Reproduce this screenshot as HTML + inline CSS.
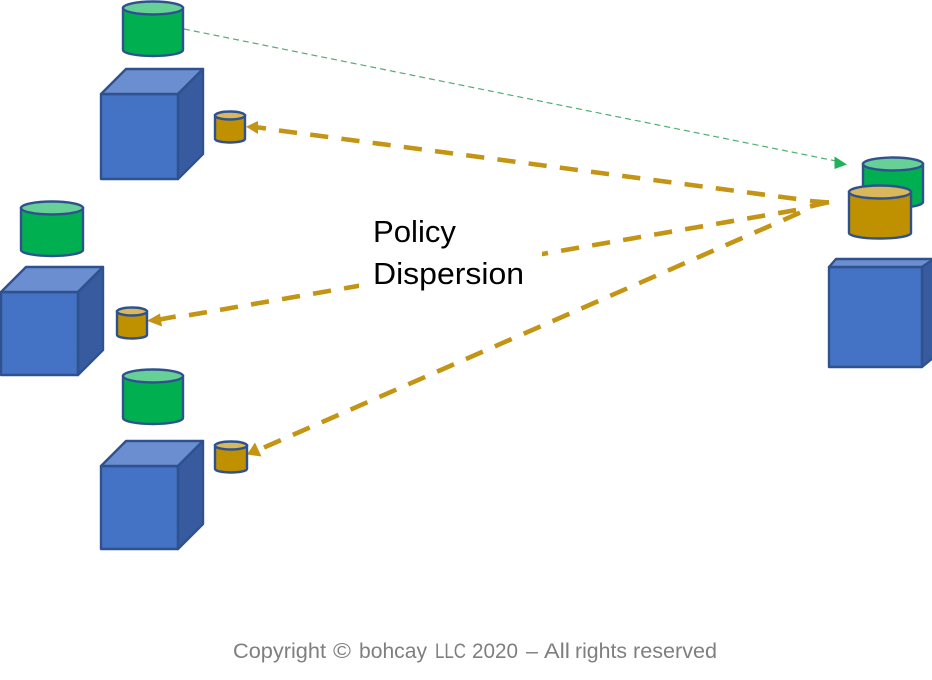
<!DOCTYPE html>
<html>
<head>
<meta charset="utf-8">
<style>
html,body{margin:0;padding:0;background:#fff;width:932px;height:680px;overflow:hidden}
svg{display:block}
</style>
</head>
<body>
<svg width="932" height="680" viewBox="0 0 932 680" xmlns="http://www.w3.org/2000/svg">
<rect width="932" height="680" fill="#fff"/>

<!-- green thin dashed -->
<line x1="184" y1="29" x2="836" y2="161" stroke="#4fae70" stroke-width="1.200" stroke-dasharray="6 4"/>
<polygon points="847,164.500 834.500,169 834.500,156.500" fill="#1fb25a"/>

<!-- gold dashed connectors -->
<g stroke="#c49414" stroke-width="4.600" fill="none">
<g stroke-dasharray="18.200 13.270">
<line x1="279" y1="130.500" x2="797" y2="199"/>
<line x1="189" y1="315.200" x2="796.500" y2="210"/>
</g>
<line x1="264" y1="447.500" x2="800" y2="212.700" stroke-dasharray="18.400 13.100"/>
<!-- stubs by the arrowheads -->
<line x1="255" y1="127" x2="266" y2="128.500"/>
<line x1="157" y1="320" x2="175.700" y2="316.500"/>
<!-- merged end at the source -->
<line x1="810" y1="201" x2="829" y2="202.500"/>
<line x1="810" y1="206.500" x2="829" y2="202"/>
</g>
<polygon points="246,126.700 258,121 258,134" fill="#c49414"/>
<polygon points="147,320.700 160,313.500 162,326.500" fill="#c49414"/>
<polygon points="247,454.500 255,442.500 261.500,456.500" fill="#c49414"/>

<!-- label mask and text -->
<rect x="359" y="210" width="183" height="86" fill="#fff"/>
<text x="373" y="242" font-family="'Liberation Sans',sans-serif" font-size="31" fill="#000" textLength="83" lengthAdjust="spacingAndGlyphs">Policy</text>
<text x="373" y="284" font-family="'Liberation Sans',sans-serif" font-size="31" fill="#000" textLength="151" lengthAdjust="spacingAndGlyphs">Dispersion</text>

<!-- cube 1 -->
<g stroke="#2f528f" stroke-width="2.400" stroke-linejoin="round">
<rect x="101" y="94" width="77" height="85" fill="#4472c4"/>
<polygon points="101,94 126,69 203,69 178,94" fill="#6a8ed0"/>
<polygon points="178,94 203,69 203,154 178,179" fill="#375b9e"/>
</g>
<!-- cube 2 -->
<g stroke="#2f528f" stroke-width="2.400" stroke-linejoin="round">
<rect x="1" y="292" width="77" height="83" fill="#4472c4"/>
<polygon points="1,292 26,267 103,267 78,292" fill="#6a8ed0"/>
<polygon points="78,292 103,267 103,350 78,375" fill="#375b9e"/>
</g>
<!-- cube 3 -->
<g stroke="#2f528f" stroke-width="2.400" stroke-linejoin="round">
<rect x="101" y="466" width="77" height="83" fill="#4472c4"/>
<polygon points="101,466 126,441 203,441 178,466" fill="#6a8ed0"/>
<polygon points="178,466 203,441 203,524 178,549" fill="#375b9e"/>
</g>
<!-- cube right -->
<g stroke="#2f528f" stroke-width="2.400" stroke-linejoin="round">
<rect x="829" y="267" width="93" height="100" fill="#4472c4"/>
<polygon points="829,267 836,259 934,259 922,267" fill="#6a8ed0"/>
<polygon points="922,267 934,259 934,357 922,367" fill="#375b9e"/>
</g>

<!-- green cylinders -->
<g stroke="#2f528f" stroke-width="2.400">
<path d="M123,8 V50 A30,6 0 0 0 183,50 V8 Z" fill="#00b050"/>
<ellipse cx="153" cy="8" rx="30" ry="6.500" fill="#66d096"/>
<path d="M21,208 V250 A31,6 0 0 0 83,250 V208 Z" fill="#00b050"/>
<ellipse cx="52" cy="208" rx="31" ry="6.500" fill="#66d096"/>
<path d="M123,376 V418 A30,6 0 0 0 183,418 V376 Z" fill="#00b050"/>
<ellipse cx="153" cy="376" rx="30" ry="6.500" fill="#66d096"/>
<path d="M863,164 V202 A30,6 0 0 0 923,202 V164 Z" fill="#00b050"/>
<ellipse cx="893" cy="164" rx="30" ry="6.500" fill="#66d096"/>
</g>

<!-- gold cylinders -->
<g stroke="#2f528f" stroke-width="2.400">
<path d="M849,192 V233 A31,5.500 0 0 0 911,233 V192 Z" fill="#bf9000"/>
<ellipse cx="880" cy="192" rx="31" ry="6.500" fill="#d9b75c"/>
<path d="M215,115.500 V139 A15,3.500 0 0 0 245,139 V115.500 Z" fill="#bf9000"/>
<ellipse cx="230" cy="115.500" rx="15" ry="4" fill="#d9b75c"/>
<path d="M117,311.500 V335 A15,3.500 0 0 0 147,335 V311.500 Z" fill="#bf9000"/>
<ellipse cx="132" cy="311.500" rx="15" ry="4" fill="#d9b75c"/>
<path d="M215,445.500 V469 A16,3.500 0 0 0 247,469 V445.500 Z" fill="#bf9000"/>
<ellipse cx="231" cy="445.500" rx="16" ry="4" fill="#d9b75c"/>
</g>

<g font-family="'Liberation Sans',sans-serif" font-size="21" fill="#7f7f7f">
<text x="233" y="658" textLength="93" lengthAdjust="spacingAndGlyphs">Copyright</text>
<text x="333" y="658" textLength="18" lengthAdjust="spacingAndGlyphs">©</text>
<text x="359" y="658" textLength="68" lengthAdjust="spacingAndGlyphs">bohcay</text>
<text x="435" y="658" textLength="31" lengthAdjust="spacingAndGlyphs">LLC</text>
<text x="472" y="658" textLength="46" lengthAdjust="spacingAndGlyphs">2020</text>
<text x="526" y="658" textLength="12" lengthAdjust="spacingAndGlyphs">–</text>
<text x="544" y="658" textLength="26" lengthAdjust="spacingAndGlyphs">All</text>
<text x="575" y="658" textLength="52" lengthAdjust="spacingAndGlyphs">rights</text>
<text x="633" y="658" textLength="84" lengthAdjust="spacingAndGlyphs">reserved</text>
</g>
</svg>
</body>
</html>
